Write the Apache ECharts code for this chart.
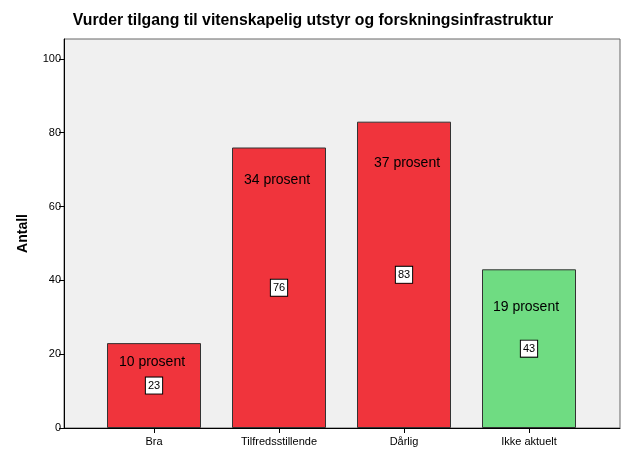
<!DOCTYPE html>
<html><head><meta charset="utf-8">
<script src="https://cdn.jsdelivr.net/npm/echarts@6/dist/echarts.min.js"></script>
<style>html,body{margin:0;padding:0;background:#fff}#c{width:626px;height:465px}</style>
</head><body><div id="c"></div>
<script>
const categories = ['Bra', 'Tilfredsstillende', 'Dårlig', 'Ikke aktuelt'];
const counts = [23, 76, 83, 43];
const percents = [10, 34, 37, 19];
const yTicks = [0, 20, 40, 60, 80, 100];

const barColors = ['#f0343c', '#f0343c', '#f0343c', '#6fdc82'];
const pctDistance = [12, 26, 34, 31];
const pctOffsetX = [-2, -2, 3, -3];
const YMAX = 105.4;
const FONT = 'Liberation Sans, Arial, sans-serif';

const chart = echarts.init(document.getElementById('c'), null, {renderer: 'canvas'});
chart.setOption({
  animation: false,
  backgroundColor: '#ffffff',
  title: {
    text: 'Vurder tilgang til vitenskapelig utstyr og forskningsinfrastruktur',
    left: 312, top: 8, textAlign: 'center',
    textStyle: {fontFamily: FONT, fontSize: 15.8, fontWeight: 'bold', color: '#000'}
  },
  grid: [
    {left: 64, right: 6, top: 39, bottom: 37, show: true, backgroundColor: '#f0f0f0', borderColor: '#666', borderWidth: 1},
    {left: 91.5, right: 34.5, top: 39, bottom: 37}
  ],
  xAxis: [
    {gridIndex: 0, type: 'value', min: 0, max: 1, axisLine: {show: true, lineStyle: {color: '#000', width: 1}}, axisTick: {show: false}, axisLabel: {show: false}, splitLine: {show: false}},
    {gridIndex: 1, type: 'category', data: categories,
     axisLine: {show: false},
     axisTick: {show: true, alignWithLabel: true, length: 5, lineStyle: {color: '#000'}},
     axisLabel: {fontFamily: FONT, fontSize: 11, color: '#000', margin: 8}}
  ],
  yAxis: [
    {gridIndex: 0, type: 'value', min: 0, max: YMAX, interval: 20,
     name: 'Antall', nameLocation: 'middle', nameGap: 34, nameRotate: 90,
     nameTextStyle: {fontFamily: FONT, fontSize: 14, fontWeight: 'bold', color: '#000'},
     axisLine: {show: true, lineStyle: {color: '#000'}},
     axisTick: {show: true, length: 5, lineStyle: {color: '#000'}, customValues: yTicks},
     axisLabel: {fontFamily: FONT, fontSize: 11, color: '#000', margin: 3, customValues: yTicks},
     splitLine: {show: false}},
    {gridIndex: 1, type: 'value', min: 0, max: YMAX, show: false, splitLine: {show: false}}
  ],
  series: [
    {type: 'bar', xAxisIndex: 1, yAxisIndex: 1, barWidth: 94,
     data: counts.map((v, i) => ({value: v, itemStyle: {color: barColors[i]}})),
     itemStyle: {borderColor: '#333', borderWidth: 1},
     label: {show: true, position: 'inside', formatter: '{c}', fontFamily: FONT, fontSize: 11, color: '#000',
             backgroundColor: '#fff', borderColor: '#000', borderWidth: 1, padding: [3, 2, 2, 2]}},
    {type: 'bar', xAxisIndex: 1, yAxisIndex: 1, barWidth: 94, barGap: '-100%', silent: true,
     data: counts.map((v, i) => ({value: v, label: {distance: pctDistance[i], offset: [pctOffsetX[i], 0]}})),
     itemStyle: {color: 'rgba(0,0,0,0)'},
     label: {show: true, position: 'insideTop', fontFamily: FONT, fontSize: 14, color: '#000',
             formatter: p => percents[p.dataIndex] + ' prosent'}}
  ]
});
chart.setOption({title: {left: 308}});
</script></body></html>
